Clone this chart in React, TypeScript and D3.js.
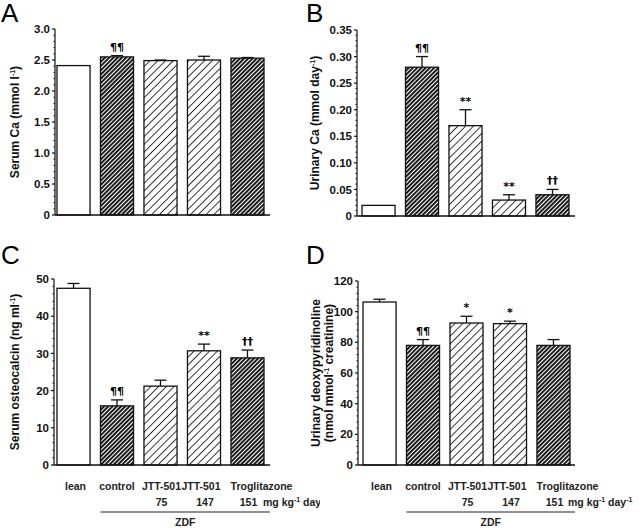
import React from 'react';
import * as d3 from 'd3';

const categories = ['lean', 'control', 'JTT-501', 'JTT-501', 'Troglitazone'];
const doses = ['', '', '75', '147', '151'];
const fills = ['white', 'dark', 'light', 'light', 'dark'];

const serumCa = [2.41, 2.55, 2.49, 2.5, 2.53];
const serumCaErr = [0.0, 0.02, 0.01, 0.06, 0.01];
const serumCaMarks = ['', '¶¶', '', '', ''];
const serumCaTicks = ['0', '0.5', '1.0', '1.5', '2.0', '2.5', '3.0'];

const urinaryCa = [0.02, 0.28, 0.17, 0.03, 0.04];
const urinaryCaErr = [0, 0.02, 0.03, 0.01, 0.01];
const urinaryCaMarks = ['', '¶¶', '**', '**', '††'];
const urinaryCaTicks = ['0', '0.05', '0.10', '0.15', '0.20', '0.25', '0.30', '0.35'];

const osteocalcin = [47.5, 15.9, 21.2, 30.7, 28.8];
const osteocalcinErr = [1.3, 1.6, 1.6, 1.8, 2.1];
const osteocalcinMarks = ['', '¶¶', '', '**', '††'];
const osteocalcinTicks = ['0', '10', '20', '30', '40', '50'];

const deoxypyr = [106.3, 78, 92.6, 92.2, 78];
const deoxypyrErr = [1.8, 3.8, 4.4, 1.6, 3.8];
const deoxypyrMarks = ['', '¶¶', '*', '*', ''];
const deoxypyrTicks = ['0', '20', '40', '60', '80', '100', '120'];

const FONT = '"Liberation Sans", Arial, Helvetica, sans-serif';
const MARKFONT = '"DejaVu Sans", "Liberation Sans", sans-serif';
// small horizontal nudges of the category labels, as typeset in the original
const labelShift = [2, 0, 1, -3, 14];

interface PanelProps {
  id: string;
  letter: string;
  clipX: number;
  clipY: number;
  clipH: number;
  x0: number;
  x1: number;
  barOffset: number;
  yTop: number;
  yBot: number;
  ticks: string[];
  minorCount: number;
  values: number[];
  errs: number[];
  marks: string[];
  labelLines: React.ReactNode[];
  labelX: number[];
  showCategories: boolean;
}

const sup = (t: string) => (
  <tspan fontSize={7} dy={-4}>{t}</tspan>
);

const Panel: React.FC<PanelProps> = (p) => {
  const tickVals = p.ticks.map((t) => parseFloat(t));
  const max = d3.max(tickVals) ?? 1;
  const y = d3.scaleLinear().domain([0, max]).range([p.yBot, p.yTop]);
  const x = d3.scaleBand<number>()
    .domain(d3.range(categories.length))
    .range([p.x0 + p.barOffset, p.x0 + p.barOffset + 207])
    .paddingInner(0.24)
    .paddingOuter(0);
  const bw = x.bandwidth();
  const step = tickVals[1] - tickVals[0];
  const minor: number[] = [];
  for (let i = 0; i < tickVals.length - 1; i++) {
    for (let k = 1; k <= p.minorCount; k++) {
      minor.push(tickVals[i] + (step * k) / (p.minorCount + 1));
    }
  }
  const patt = (f: string) => (f === 'white' ? 'white' : `url(#${f})`);

  return (
    <g clipPath={`url(#clip${p.id})`}>
      <defs>
        <clipPath id={`clip${p.id}`}>
          <rect x={p.clipX} y={p.clipY} width={p.clipX === 0 ? 320 : 335} height={p.clipH} />
        </clipPath>
      </defs>
      <text x={p.clipX + 1} y={p.clipY + 22} fontSize={26} fontFamily={FONT}>{p.letter}</text>
      {/* y axis */}
      <line x1={p.x0} x2={p.x0} y1={p.yTop} y2={p.yBot} stroke="#111" strokeWidth={1.2} />
      {tickVals.map((v, i) => (
        <g key={'t' + i}>
          <line x1={p.x0 - 3} x2={p.x0} y1={y(v)} y2={y(v)} stroke="#111" strokeWidth={1.2} />
          <text x={p.x0 - 5} y={y(v)} dy="0.36em" textAnchor="end" fontSize={11.5}
            fontWeight="bold" fontFamily={FONT} fill="#111">{p.ticks[i]}</text>
        </g>
      ))}
      {minor.map((v, i) => (
        <line key={'m' + i} x1={p.x0 - 1.5} x2={p.x0} y1={y(v)} y2={y(v)} stroke="#111" strokeWidth={1} />
      ))}
      {/* y label */}
      {p.labelLines.map((l, i) => (
        <text key={'l' + i}
          transform={`translate(${p.labelX[i]},${(p.yTop + p.yBot) / 2}) rotate(-90)`}
          textAnchor="middle" dy="0.35em" fontSize={12} fontWeight="bold"
          fontFamily={FONT} fill="#111">{l}</text>
      ))}
      {/* bars */}
      {p.values.map((v, i) => {
        const bx = x(i) ?? 0;
        const cx = bx + bw / 2;
        const top = y(v);
        const etop = y(v + p.errs[i]);
        return (
          <g key={'b' + i}>
            {p.errs[i] > 0 && (
              <g stroke="#111" strokeWidth={1.3}>
                <line x1={cx} x2={cx} y1={top} y2={etop} />
                <line x1={cx - 6} x2={cx + 6} y1={etop} y2={etop} />
              </g>
            )}
            <rect x={bx} y={top} width={bw} height={p.yBot - top} fill={patt(fills[i])}
              stroke="#111" strokeWidth={1.3} />
            {p.marks[i] && (
              <text x={cx} y={etop - 5} textAnchor="middle" fontSize={11}
                fontWeight="bold" fontFamily={MARKFONT} fill="#000">{p.marks[i]}</text>
            )}
          </g>
        );
      })}
      {/* x axis */}
      <line x1={p.x0} x2={p.x1} y1={p.yBot} y2={p.yBot} stroke="#111" strokeWidth={1.3} />
      {p.showCategories && (
        <g fontFamily={FONT} fontWeight="bold" fontSize={10.5} fill="#222">
          {categories.map((c, i) => (
            <text key={'c' + i} x={(x(i) ?? 0) + bw / 2 + labelShift[i]} y={490} textAnchor="middle">{c}</text>
          ))}
          {doses.map((d, i) => (
            <text key={'d' + i} x={(x(i) ?? 0) + bw / 2 + 1} y={506} textAnchor="middle">{d}</text>
          ))}
          <text x={p.x1 - 7} y={506}>mg kg{sup('-1')}<tspan dy={4}> day</tspan>{sup('-1')}</text>
          <line x1={x(1) ?? 0} x2={p.x1} y1={512} y2={512} stroke="#222" strokeWidth={1} />
          <text x={((x(1) ?? 0) + p.x1) / 2} y={526} textAnchor="middle">ZDF</text>
        </g>
      )}
    </g>
  );
};

const App: React.FC = () => {
  return (
    <svg width={640} height={528} style={{ position: 'absolute', left: 0, top: 0, background: 'white' }}>
      <defs>
        <pattern id="dark" width={3} height={3} patternUnits="userSpaceOnUse" patternTransform="rotate(45)">
          <rect width={3} height={3} fill="white" />
          <rect x={0} y={0} width={1.9} height={3} fill="#111" />
        </pattern>
        <pattern id="light" width={5.5} height={5.5} patternUnits="userSpaceOnUse" patternTransform="rotate(45)">
          <rect width={5.5} height={5.5} fill="white" />
          <rect x={0} y={0} width={0.9} height={5.5} fill="#222" />
        </pattern>
      </defs>
      <rect width={640} height={528} fill="white" />
      <Panel id="A" letter="A" clipX={0} clipY={0} clipH={242} x0={55} x1={270} barOffset={2}
        yTop={29} yBot={215} ticks={serumCaTicks} minorCount={4}
        values={serumCa} errs={serumCaErr} marks={serumCaMarks}
        labelLines={[<>Serum Ca (mmol l{sup('-1')}<tspan dy={4}>)</tspan></>]} labelX={[15]}
        showCategories={false} />
      <Panel id="B" letter="B" clipX={305} clipY={0} clipH={242} x0={357} x1={575} barOffset={5}
        yTop={30} yBot={216} ticks={urinaryCaTicks} minorCount={4}
        values={urinaryCa} errs={urinaryCaErr} marks={urinaryCaMarks}
        labelLines={[<>Urinary Ca (mmol day{sup('-1')}<tspan dy={4}>)</tspan></>]} labelX={[315]}
        showCategories={false} />
      <Panel id="C" letter="C" clipX={0} clipY={242} clipH={286} x0={54} x1={270} barOffset={3}
        yTop={279} yBot={465} ticks={osteocalcinTicks} minorCount={4}
        values={osteocalcin} errs={osteocalcinErr} marks={osteocalcinMarks}
        labelLines={[<>Serum osteocalcin (ng ml{sup('-1')}<tspan dy={4}>)</tspan></>]} labelX={[15]}
        showCategories={true} />
      <Panel id="D" letter="D" clipX={305} clipY={242} clipH={286} x0={358} x1={575} barOffset={5}
        yTop={281} yBot={465} ticks={deoxypyrTicks} minorCount={4}
        values={deoxypyr} errs={deoxypyrErr} marks={deoxypyrMarks}
        labelLines={[<>Urinary deoxypyridinoline</>, <>(nmol mmol{sup('-1')}<tspan dy={4}> creatinine)</tspan></>]}
        labelX={[316, 329]}
        showCategories={true} />
    </svg>
  );
};

export default App;
